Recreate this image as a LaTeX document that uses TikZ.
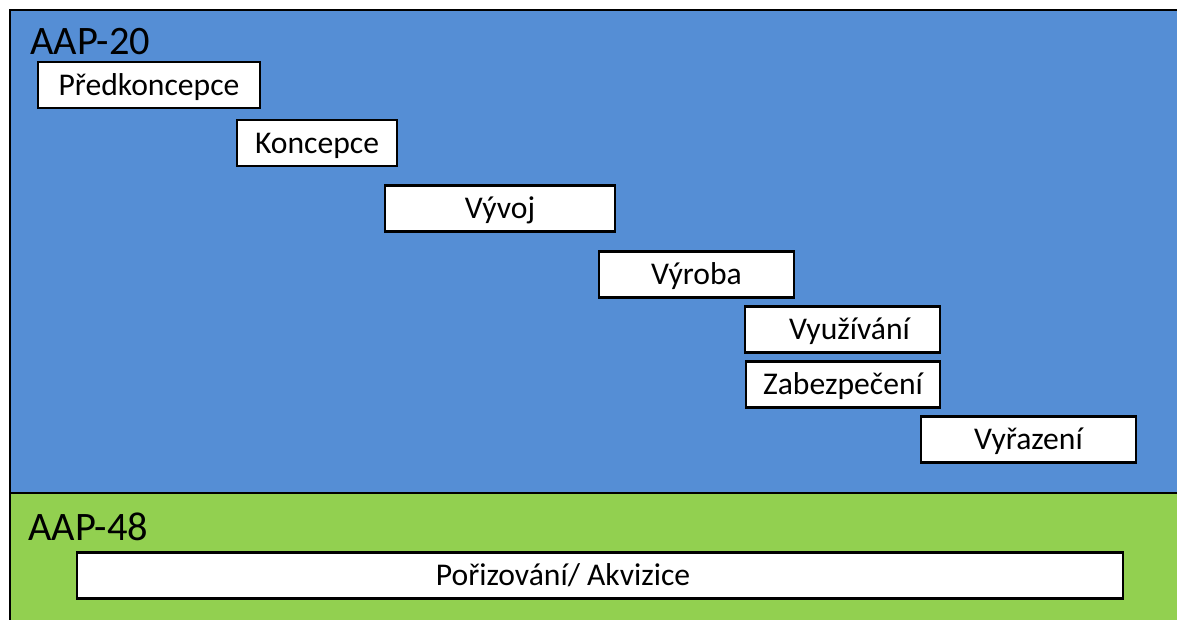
\documentclass[tikz,border=0pt]{standalone}
\usepackage{fontspec}
\setmainfont{Carlito}
\usepackage{tikz}
\usetikzlibrary{calc}
\definecolor{aapblue}{RGB}{85,142,213}
\definecolor{aapgreen}{RGB}{146,208,80}

\begin{document}
\begin{tikzpicture}[x=0.02cm,y=-0.02cm,
  phase/.style={draw=black,fill=white,line width=1.6pt,minimum height=46*0.02cm,inner sep=0pt,
    text height=11.6pt,text depth=0pt,font=\fontsize{18}{20}\selectfont},
  tag/.style={anchor=west,font=\fontsize{23}{26}\selectfont}]
\useasboundingbox (0,0) rectangle (1177,620);
\fill[aapblue] (10,10) rectangle (1177,493);
\fill[aapgreen] (10,493) rectangle (1177,620);
\draw[line width=1.2pt] (1177,10) -- (10,10) -- (10,620);
\draw[line width=1.2pt] (10,493) -- (1177,493);
\node[tag] (aap20) at (24,42) {AAP-20};
\node[tag] (aap48) at (22,527) {AAP-48};
\node[phase,minimum width=222*0.02cm] (predkon) at (149,85) {Předkoncepce};
\node[phase,minimum width=160*0.02cm] (koncepce) at (317,143) {Koncepce};
\node[phase,minimum width=230*0.02cm] (vyvoj) at (500,208.5) {Vývoj};
\node[phase,minimum width=195*0.02cm] (vyroba) at (696.5,274.5) {Výroba};
\node[phase,minimum width=195*0.02cm] (vyuziti) at (842.5,329.5) {\hspace*{8pt}Využívání};
\node[phase,minimum width=194*0.02cm] (zabezp) at (843,384.5) {Zabezpečení};
\node[phase,minimum width=215*0.02cm] (vyrazeni) at (1028.5,439.5) {Vyřazení};
\node[phase,minimum width=1046*0.02cm] (akvizice) at (600,575.5) {Pořizování/ Akvizice\hspace*{42pt}};
\end{tikzpicture}
\end{document}
